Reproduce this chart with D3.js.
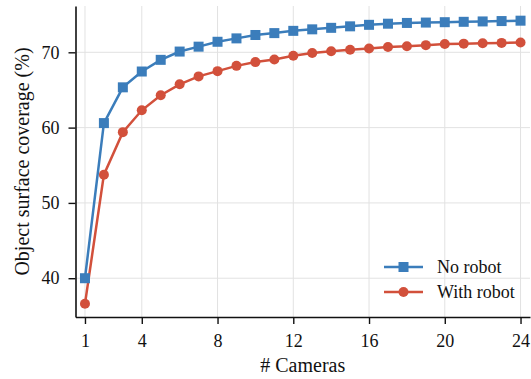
<!DOCTYPE html>
<html>
<head>
<meta charset="utf-8">
<script src="https://cdn.jsdelivr.net/npm/d3@7"></script>
<style>
  body { margin: 0; background: #fff; }
  svg text { font-family: "Liberation Serif", "DejaVu Serif", serif; fill: #111; }
</style>
</head>
<body>
<div id="chart"></div>
<script>
var cameras = d3.range(1, 25);
var noRobot = [40.0, 60.6, 65.35, 67.45, 69.0, 70.1, 70.75, 71.4, 71.85, 72.3, 72.55, 72.85,
  73.05, 73.25, 73.45, 73.65, 73.8, 73.9, 73.95, 74.0, 74.05, 74.1, 74.15, 74.2];
var withRobot = [36.6, 53.75, 59.4, 62.3, 64.3, 65.75, 66.8, 67.5, 68.2, 68.7, 69.05, 69.55,
  69.9, 70.15, 70.35, 70.5, 70.7, 70.8, 70.95, 71.1, 71.15, 71.2, 71.25, 71.3];
var xTicks = [1, 4, 8, 12, 16, 20, 24];
var yTicks = [40, 50, 60, 70];
var seriesNames = ["No robot", "With robot"];
var colors = ["#3b7dbb", "#d2503b"];

function createLineChart(width, height, id) {
  var margin = { top: 6, right: 1, bottom: 62, left: 75.5 };

  var svg = d3.select(id)
    .append("svg")
    .attr("width", width)
    .attr("height", height);

  var x = d3.scaleLinear()
    .domain([0.5, 24.5])
    .range([margin.left, width - margin.right]);

  var y = d3.scaleLinear()
    .domain([34.85, 76.15])
    .range([height - margin.bottom, margin.top]);

  // grid
  var grid = svg.append("g");
  grid.selectAll("line.gx")
    .data(xTicks)
    .enter()
    .append("line")
    .attr("x1", (d) => x(d)).attr("x2", (d) => x(d))
    .attr("y1", y.range()[0]).attr("y2", y.range()[1])
    .style("stroke", "#e2e2e2").style("stroke-width", 1);
  grid.selectAll("line.gy")
    .data(yTicks)
    .enter()
    .append("line")
    .attr("x1", x.range()[0]).attr("x2", x.range()[1])
    .attr("y1", (d) => y(d)).attr("y2", (d) => y(d))
    .style("stroke", "#e2e2e2").style("stroke-width", 1);

  // axes
  var xAxis = svg.append("g")
    .attr("transform", "translate(0," + (height - margin.bottom) + ")")
    .call(d3.axisBottom(x).tickValues(xTicks).tickSize(7).tickPadding(10.5).tickSizeOuter(0));
  var yAxis = svg.append("g")
    .attr("transform", "translate(" + margin.left + ",0)")
    .call(d3.axisLeft(y).tickValues(yTicks).tickSize(7).tickPadding(9).tickSizeOuter(0));

  [xAxis, yAxis].forEach(function (a) {
    a.select(".domain").style("stroke", "#111").style("stroke-width", 1.6);
    a.selectAll(".tick line").style("stroke", "#111").style("stroke-width", 1.4);
    a.selectAll(".tick text").style("font-size", "18px").style("fill", "#111")
      .style("font-family", "'Liberation Serif', serif");
  });

  // axis labels
  svg.append("text")
    .attr("x", (x.range()[0] + x.range()[1]) / 2)
    .attr("y", 372)
    .attr("text-anchor", "middle")
    .style("font-size", "20px")
    .text("# Cameras");

  svg.append("text")
    .attr("transform", "translate(29," + (y.range()[0] + y.range()[1]) / 2 + ") rotate(-90)")
    .attr("text-anchor", "middle")
    .style("font-size", "20px")
    .text("Object surface coverage (%)");

  var series = [noRobot, withRobot];
  var line = d3.line()
    .x((d, i) => x(cameras[i]))
    .y((d) => y(d));

  // draw red under blue so blue stays on top as in the source
  [1, 0].forEach(function (s) {
    svg.append("path")
      .datum(series[s])
      .attr("d", line)
      .style("fill", "none")
      .style("stroke", colors[s])
      .style("stroke-width", 2.5);

    var g = svg.append("g");
    if (s === 0) {
      g.selectAll("rect")
        .data(series[s])
        .enter()
        .append("rect")
        .attr("x", (d, i) => x(cameras[i]) - 5)
        .attr("y", (d) => y(d) - 5)
        .attr("width", 10)
        .attr("height", 10)
        .style("fill", colors[s]);
    } else {
      g.selectAll("circle")
        .data(series[s])
        .enter()
        .append("circle")
        .attr("cx", (d, i) => x(cameras[i]))
        .attr("cy", (d) => y(d))
        .attr("r", 5)
        .style("fill", colors[s]);
    }
  });

  // legend
  var legend = svg.append("g");
  seriesNames.forEach(function (name, i) {
    var ly = 267 + i * 25;
    legend.append("line")
      .attr("x1", 384).attr("x2", 423)
      .attr("y1", ly).attr("y2", ly)
      .style("stroke", colors[i]).style("stroke-width", 2.5);
    if (i === 0) {
      legend.append("rect")
        .attr("x", 403.5 - 5).attr("y", ly - 5)
        .attr("width", 10).attr("height", 10)
        .style("fill", colors[i]);
    } else {
      legend.append("circle")
        .attr("cx", 403.5).attr("cy", ly).attr("r", 5)
        .style("fill", colors[i]);
    }
    legend.append("text")
      .attr("x", 437)
      .attr("y", ly + 6)
      .style("font-size", "18px")
      .text(name);
  });
}

createLineChart(531, 379, "#chart");
</script>
</body>
</html>
